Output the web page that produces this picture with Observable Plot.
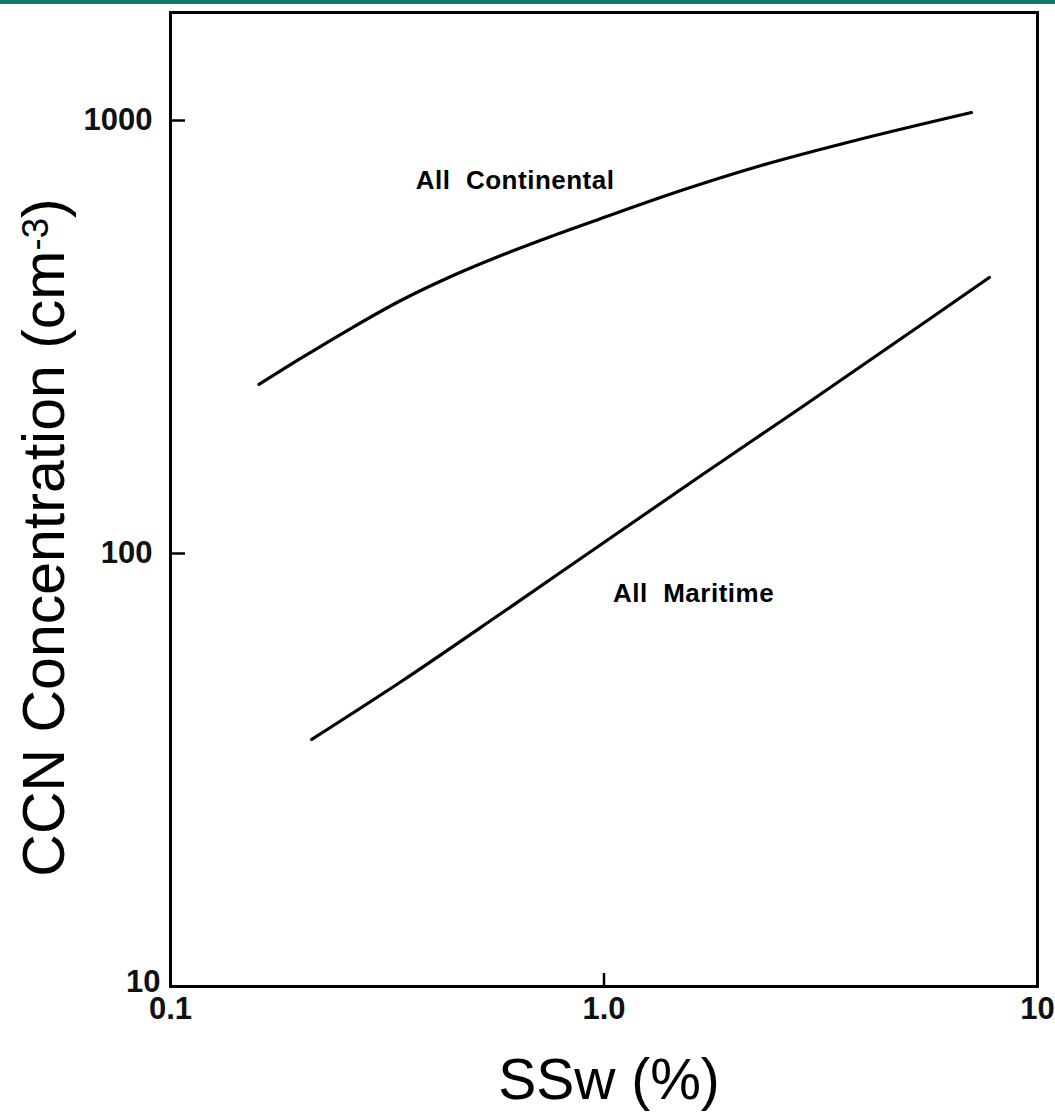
<!DOCTYPE html>
<html>
<head>
<meta charset="utf-8">
<script src="https://cdn.jsdelivr.net/npm/d3@7"></script>
<script src="https://cdn.jsdelivr.net/npm/@observablehq/plot@0.6"></script>
<style>
  html, body { margin: 0; padding: 0; background: #fff; }
  #wrap { position: relative; width: 1055px; height: 1113px; }
  #topbar { position: absolute; left: 0; top: 0; width: 1055px; height: 4px; background: #0e7a6b; }
  svg { font-family: "Liberation Sans", Arial, Helvetica, sans-serif; }
</style>
</head>
<body>
<div id="wrap"><div id="topbar"></div></div>
<script>
// Supersaturation (%) and CCN concentration (cm^-3)
const continentalSS  = [0.160, 0.1996, 0.2604, 0.3398, 0.4434, 0.5786, 0.7545, 0.9842, 1.506, 2.305, 3.719, 7.041];
const continentalCCN = [245.7, 282.1, 330.8, 384.0, 436.3, 487.8, 539.7, 593.8, 689.0, 787.2, 894.5, 1043.4];
const maritimeSS  = [0.2116, 0.3434, 0.5786, 0.9842, 1.675, 2.851, 5.572, 7.746];
const maritimeCCN = [37.19, 50.89, 72.67, 104.9, 151.4, 217.4, 345.2, 434.0];

const xTicks = [0.1, 1, 10];
const xTickLabels = ["0.1", "1.0", "10"];
const yTicks = [10, 100, 1000];
const yTickLabels = ["10", "100", "1000"];
const innerTicksX = [1];
const innerTicksY = [100, 1000];

const curveLabels = [
  {name: "All  Continental", ss: 0.368, ccn: 726},
  {name: "All  Maritime", ss: 1.049, ccn: 80.9}
];

const xTitle = "SSw (%)";
const yTitle = "CCN Concentration (cm-3)";

const continental = continentalSS.map((s, i) => ({ss: s, ccn: continentalCCN[i]}));
const maritime = maritimeSS.map((s, i) => ({ss: s, ccn: maritimeCCN[i]}));
const yLabel = (d) => yTickLabels[yTicks.indexOf(d)];

const chart = Plot.plot({
  width: 1055,
  height: 1113,
  marginLeft: 170,
  marginRight: 18,
  marginTop: 12,
  marginBottom: 127,
  style: {fontFamily: "Liberation Sans, Arial, sans-serif", background: "transparent"},
  x: {type: "log", domain: [0.1, 10]},
  y: {type: "log", domain: [10, 1776]},
  marks: [
    Plot.frame({stroke: "#000", strokeWidth: 3}),
    Plot.axisX(xTicks, {tickSize: 0, tickPadding: 10, fontSize: 31, fontWeight: "bold",
      tickFormat: (d) => xTickLabels[xTicks.indexOf(d)], label: null, fill: "#111"}),
    Plot.axisY(yTicks.slice(1), {tickSize: 0, tickPadding: 18, fontSize: 31, fontWeight: "bold",
      tickFormat: yLabel, label: null, fill: "#111"}),
    Plot.axisY(yTicks.slice(0, 1), {tickSize: 0, tickPadding: 10, dy: -4, fontSize: 31, fontWeight: "bold",
      tickFormat: yLabel, label: null, fill: "#111"}),
    Plot.axisX(innerTicksX, {tickSize: -13, strokeWidth: 2.5, tickFormat: () => "", label: null}),
    Plot.axisY(innerTicksY, {tickSize: -15, strokeWidth: 2.5, tickFormat: () => "", label: null}),
    Plot.line(continental, {x: "ss", y: "ccn", curve: "monotone-x", stroke: "#000", strokeWidth: 3.2}),
    Plot.line(maritime, {x: "ss", y: "ccn", curve: "monotone-x", stroke: "#000", strokeWidth: 3.2}),
    Plot.text(curveLabels, {x: "ss", y: "ccn", text: "name", textAnchor: "start", fontSize: 26,
      fontWeight: "bold", fill: "#000", className: "clabel"}),
    Plot.text([xTitle], {frameAnchor: "bottom", textAnchor: "middle", dx: 5, dy: 112, fontSize: 57, fill: "#000"}),
    Plot.text([yTitle], {frameAnchor: "left", textAnchor: "middle", dx: -125, dy: 38, rotate: -90,
      fontSize: 59, fill: "#000", className: "ytitle"})
  ]
});

document.getElementById("wrap").appendChild(chart);

d3.select(chart).selectAll(".clabel text").attr("letter-spacing", "0.5px");

// superscript for the unit
d3.select(chart).selectAll(".ytitle text").each(function() {
  const t = d3.select(this);
  t.text("");
  t.append("tspan").text("CCN Concentration (cm");
  t.append("tspan").attr("dy", "-0.45em").attr("font-size", "0.62em").text("-3");
  t.append("tspan").attr("dy", "0.28em").text(")");
});
</script>
</body>
</html>
